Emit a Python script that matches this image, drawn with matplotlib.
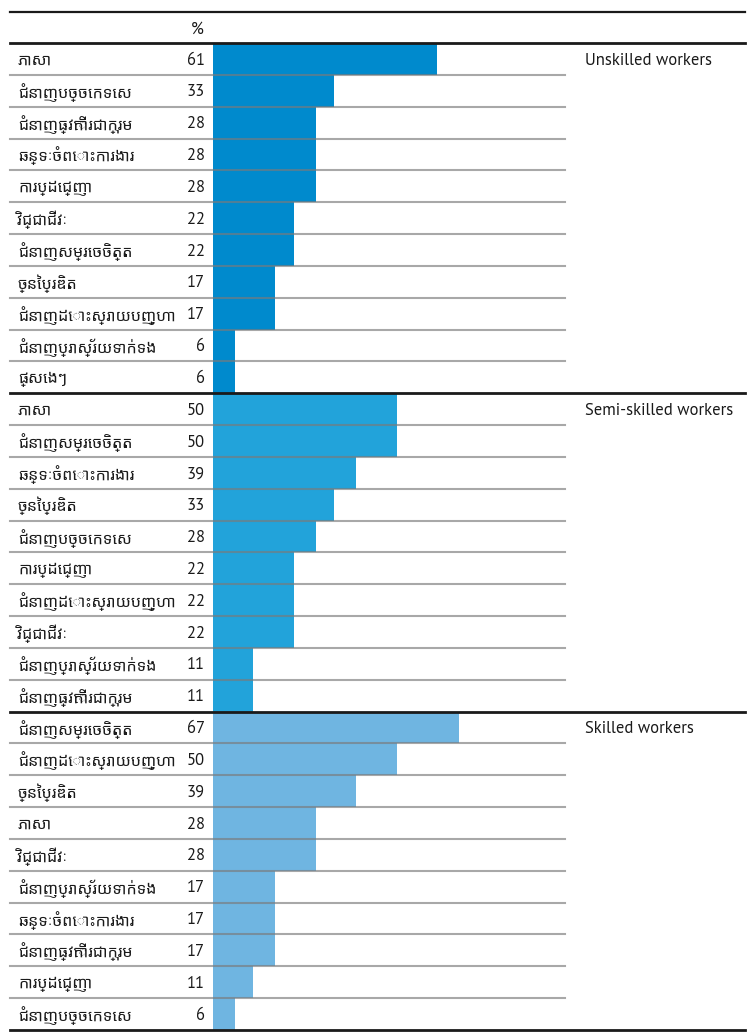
import matplotlib
matplotlib.use('Agg')
import matplotlib.pyplot as plt
from matplotlib import transforms

# --- data ---
unskilled_labels = ['ភាសា', 'ជំនាញបច្ចេកទេស', 'ជំនាញធ្វើការជាក្រុម', 'ឆន្ទៈចំពោះការងារ',
                    'ការប្ដេជ្ញា', 'វិជ្ជាជីវៈ', 'ជំនាញសម្រេចចិត្ត', 'ច្នៃប្រឌិត',
                    'ជំនាញដោះស្រាយបញ្ហា', 'ជំនាញប្រាស្រ័យទាក់ទង', 'ផ្សេងៗ']
unskilled_values = [61, 33, 28, 28, 28, 22, 22, 17, 17, 6, 6]

semi_labels = ['ភាសា', 'ជំនាញសម្រេចចិត្ត', 'ឆន្ទៈចំពោះការងារ', 'ច្នៃប្រឌិត',
               'ជំនាញបច្ចេកទេស', 'ការប្ដេជ្ញា', 'ជំនាញដោះស្រាយបញ្ហា', 'វិជ្ជាជីវៈ',
               'ជំនាញប្រាស្រ័យទាក់ទង', 'ជំនាញធ្វើការជាក្រុម']
semi_values = [50, 50, 39, 33, 28, 22, 22, 22, 11, 11]

skilled_labels = ['ជំនាញសម្រេចចិត្ត', 'ជំនាញដោះស្រាយបញ្ហា', 'ច្នៃប្រឌិត', 'ភាសា',
                  'វិជ្ជាជីវៈ', 'ជំនាញប្រាស្រ័យទាក់ទង', 'ឆន្ទៈចំពោះការងារ',
                  'ជំនាញធ្វើការជាក្រុម', 'ការប្ដេជ្ញា', 'ជំនាញបច្ចេកទេស']
skilled_values = [67, 50, 39, 28, 28, 17, 17, 17, 11, 6]

group_names = ['Unskilled workers', 'Semi-skilled workers', 'Skilled workers']
group_colors = ['#008acd', '#22a3da', '#6fb5e1']

groups = [(unskilled_labels, unskilled_values),
          (semi_labels, semi_values),
          (skilled_labels, skilled_values)]

khmer = ['Noto Sans Khmer', 'DejaVu Sans']
latin = ['PT Sans', 'Open Sans', 'DejaVu Sans']
ink = '#1a1a1a'

W, H = 747, 1034
fig = plt.figure(figsize=(W / 100, H / 100), dpi=100)

# axes for bars: x in percent, y in rows
x0, top, bottom = 213, 43, 1030
n_rows = sum(len(v) for _, v in groups)
ax = fig.add_axes([x0 / W, 1 - bottom / H, (W - x0) / W, (bottom - top) / H])
ax.set_xlim(0, (W - x0) / 3.67)
ax.set_ylim(n_rows, 0)
ax.axis('off')

tr = transforms.blended_transform_factory(fig.transFigure, ax.transData)

row = 0
for gi, (labels, values) in enumerate(groups):
    ys = [row + i + 0.5 for i in range(len(values))]
    ax.barh(ys, values, height=1.0, color=group_colors[gi], zorder=1)
    for y, lab, v in zip(ys, labels, values):
        ax.text(18 / W, y + 0.05, lab, transform=tr, ha='left', va='center',
                fontsize=11.5, family=khmer, color=ink)
        ax.text(205 / W, y + 0.05, str(v), transform=tr, ha='right', va='center',
                fontsize=12, family=latin, color=ink)
    # thin separators inside group
    for i in range(1, len(values)):
        ax.plot([10 / W, 565 / W], [row + i, row + i], transform=tr, color='#7a7a7a',
                alpha=0.65, lw=1.5, clip_on=False, zorder=3)
    ax.text(585 / W, row + 0.55, group_names[gi], transform=tr, ha='left', va='center',
            fontsize=12, family=latin, color=ink)
    # black group line on top
    ax.plot([10 / W, 745 / W], [row, row], transform=tr, color=ink,
            lw=2, clip_on=False, zorder=4)
    row += len(values)

ax.plot([10 / W, 745 / W], [row, row], transform=tr, color=ink,
        lw=2, clip_on=False, zorder=4)

# header
fig.lines.append(plt.Line2D([10 / W, 745 / W], [1 - 12 / H, 1 - 12 / H],
                            transform=fig.transFigure, color=ink, lw=1.6))
fig.text(197 / W, 1 - 30 / H, '%', ha='center', va='center', fontsize=12,
         family=latin, color=ink)

fig.savefig('out.png', dpi=100)
